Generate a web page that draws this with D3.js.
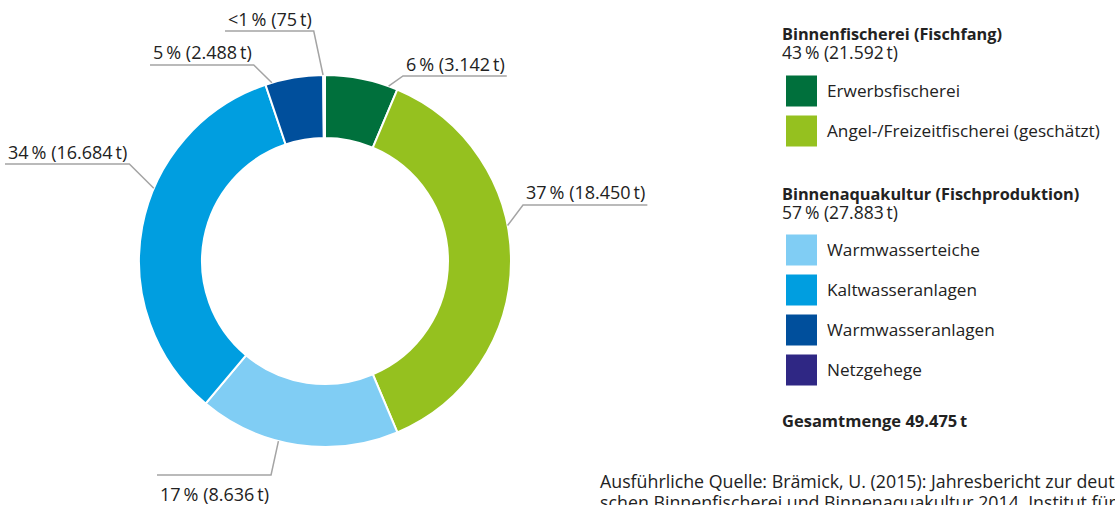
<!DOCTYPE html>
<html><head><meta charset="utf-8">
<script src="https://cdn.jsdelivr.net/npm/d3@7"></script>
<style>
html,body{margin:0;padding:0;background:#fff;overflow:hidden}
svg{display:block;font-family:"Open Sans",sans-serif}
</style></head><body>
<script>
// ---- data ----
const categories = ["Erwerbsfischerei","Angel-/Freizeitfischerei (geschätzt)","Warmwasserteiche","Kaltwasseranlagen","Warmwasseranlagen","Netzgehege"];
const values = [3142, 18450, 8636, 16684, 2488, 75];
const percentLabels = ["6\u2009%","37\u2009%","17\u2009%","34\u2009%","5\u2009%","<1\u2009%"];
const tonLabels = ["3.142\u2009t","18.450\u2009t","8.636\u2009t","16.684\u2009t","2.488\u2009t","75\u2009t"];
const colors = ["#00703c","#95c11f","#80cdf4","#009ee0","#004f9c","#2f2784"];
const groupTitles = ["Binnenfischerei (Fischfang)","Binnenaquakultur (Fischproduktion)"];
const groupSubs = ["43\u2009% (21.592\u2009t)","57\u2009% (27.883\u2009t)"];
const groupMembers = [[0,1],[2,3,4,5]];
const totalLabel = "Gesamtmenge 49.475\u2009t";
const sourceLines = ["Ausführliche Quelle: Brämick, U. (2015): Jahresbericht zur deut-",
                     "schen Binnenfischerei und Binnenaquakultur 2014. Institut für"];

// ---- layout ----
const W=1115,H=505, cx=325, cy=261, rOuter=186, rInner=123;
const labelLayout = [
  {ang:20,  x:406, y:71,  ly:76,  side:"right"},
  {ang:79,  x:526, y:199, ly:205, side:"right"},
  {ang:194.5,x:160,y:501, ly:475, side:"left"},
  {ang:293, x:8,   y:159, ly:164, side:"left"},
  {ang:343.4,x:153,y:59,  ly:65,  side:"left"},
  {ang:359.4,x:228,y:26,  ly:31,  side:"left"}
];

const svg = d3.select("body").append("svg").attr("width",W).attr("height",H);
const textColor="#222";

const pie = d3.pie().sort(null).value(d=>d);
const arcs = pie(values);
const arc = d3.arc().innerRadius(rInner).outerRadius(rOuter);
const g = svg.append("g").attr("transform",`translate(${cx},${cy})`);
g.selectAll("path").data(arcs).join("path")
  .attr("d",arc).attr("fill",(d,i)=>colors[i])
  .attr("stroke","#fff").attr("stroke-width",2);

// labels
const lab = svg.append("g");
labelLayout.forEach((L,i)=>{
  const t = lab.append("text").attr("x",L.x).attr("y",L.y)
    .attr("font-size",18).attr("fill",textColor)
    .text(percentLabels[i]+" ("+tonLabels[i]+")");
  const w = t.node().getComputedTextLength();
  const x0 = L.x-3, x1 = L.x+w+2;
  const a = L.ang*Math.PI/180;
  const ax = cx + rOuter*Math.sin(a), ay = cy - rOuter*Math.cos(a);
  const pts = L.side==="right" ? [[x1,L.ly],[x0,L.ly],[ax,ay]] : [[x0,L.ly],[x1,L.ly],[ax,ay]];
  lab.append("path").attr("d",d3.line()(pts)).attr("fill","none")
    .attr("stroke","#a4a4a4").attr("stroke-width",1.5);
});

// legend
const leg = svg.append("g");
const legX=786, sq=31;
const groupTop=[40,200], itemStart=[91,250], itemStep=40;
groupTitles.forEach((title,gi)=>{
  leg.append("text").attr("x",782).attr("y",groupTop[gi]).attr("font-size",16.3)
    .attr("font-weight","bold").attr("fill",textColor).text(title);
  leg.append("text").attr("x",782).attr("y",groupTop[gi]+19).attr("font-size",17.5)
    .attr("fill",textColor).text(groupSubs[gi]);
  groupMembers[gi].forEach((m,k)=>{
    const yc = itemStart[gi]+k*itemStep;
    leg.append("rect").attr("x",legX).attr("y",yc-sq/2).attr("width",sq).attr("height",sq)
      .attr("fill",colors[m]);
    leg.append("text").attr("x",827).attr("y",yc+6).attr("font-size",17.2)
      .attr("fill",textColor).text(categories[m]);
  });
});
leg.append("text").attr("x",782).attr("y",427).attr("font-size",16.5)
  .attr("font-weight","bold").attr("fill",textColor).text(totalLabel);

sourceLines.forEach((s,i)=>{
  svg.append("text").attr("x",600).attr("y",488+i*21).attr("font-size",17.8)
    .attr("fill",textColor).text(s);
});
</script>
</body></html>
